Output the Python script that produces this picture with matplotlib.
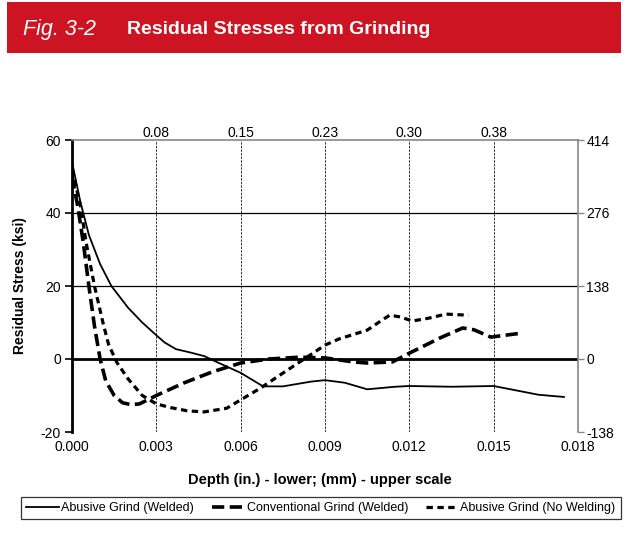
import matplotlib
matplotlib.use("Agg")
import matplotlib.pyplot as plt
from matplotlib.patches import Rectangle
from matplotlib.lines import Line2D

plt.rcParams['font.family'] = ['Liberation Sans', 'DejaVu Sans']

# ---- data ----
solid_x = [0, 0.0003, 0.0006, 0.001, 0.0014, 0.002, 0.0025, 0.003, 0.0033, 0.0037, 0.0042,
           0.0047, 0.0052, 0.006, 0.0068, 0.0075, 0.0085, 0.009, 0.0097, 0.0105, 0.0115,
           0.012, 0.0135, 0.015, 0.0158, 0.0166, 0.0175]
solid_y = [54, 43, 34, 26, 20, 14, 10, 6.5, 4.5, 2.7, 1.8, 0.8, -1.0, -3.8, -7.5, -7.5,
           -6.2, -5.8, -6.5, -8.3, -7.6, -7.4, -7.6, -7.4, -8.6, -9.8, -10.4]

long_x = [0, 0.0002, 0.0004, 0.0006, 0.0008, 0.001, 0.0012, 0.0015, 0.0018, 0.0021, 0.0024,
          0.003, 0.004, 0.005, 0.006, 0.007, 0.0081, 0.009, 0.01, 0.0105, 0.0114, 0.012,
          0.0131, 0.0139, 0.0143, 0.0149, 0.016]
long_y = [50, 42, 32, 20, 9, 0, -6, -10, -12, -12.5, -12.3, -10, -6.5, -3.5, -1.1, 0, 0.5,
          0.3, -0.8, -1.1, -0.8, 1.6, 5.8, 8.5, 8, 6, 7.1]

short_x = [0, 0.0003, 0.0005, 0.0008, 0.0011, 0.0013, 0.0016, 0.002, 0.0025, 0.003, 0.0035,
           0.0041, 0.0047, 0.0055, 0.006, 0.0067, 0.0073, 0.0082, 0.009, 0.0095, 0.0105,
           0.011, 0.0113, 0.0117, 0.0121, 0.0127, 0.0133, 0.0141]
short_y = [52, 42, 32, 20, 10, 4, -1, -5.5, -10, -12.3, -13.3, -14.2, -14.5, -13.5, -11.2,
           -8, -4.9, -0.3, 3.8, 5.5, 7.9, 10.5, 12, 11.5, 10.4, 11.2, 12.3, 12]

series_names = ["Abusive Grind (Welded)", "Conventional Grind (Welded)",
                "Abusive Grind (No Welding)"]

x_ticks = [0.000, 0.003, 0.006, 0.009, 0.012, 0.015, 0.018]
x_ticklabels = ["0.000", "0.003", "0.006", "0.009", "0.012", "0.015", "0.018"]
top_ticks = [0.003, 0.006, 0.009, 0.012, 0.015]
top_ticklabels = ["0.08", "0.15", "0.23", "0.30", "0.38"]
y_ticks = [-20, 0, 20, 40, 60]
right_ticklabels = ["-138", "0", "138", "276", "414"]

# ---- figure ----
fig = plt.figure(figsize=(6.29, 5.34), dpi=100)

fig.patches.append(Rectangle((7 / 629, 1 - 53 / 534), 614 / 629, 51 / 534,
                             transform=fig.transFigure, facecolor='#cc1422',
                             edgecolor='none', zorder=0))
fig.text(23 / 629, 1 - 29 / 534, "Fig. 3-2", color='white', fontsize=15.5,
         style='italic', va='center', ha='left')
fig.text(127 / 629, 1 - 29 / 534, "Residual Stresses from Grinding", color='white',
         fontsize=14, weight='bold', va='center', ha='left')

ax = fig.add_axes([72 / 629, 1 - 432 / 534, (578 - 72) / 629, (432 - 140) / 534])
ax.set_xlim(0, 0.018)
ax.set_ylim(-20, 60)

# grid
for xv in top_ticks:
    ax.axvline(xv, color='#333333', lw=0.7, ls=(0, (2.5, 1.2)), zorder=1)
for yv in [20, 40]:
    ax.axhline(yv, color='black', lw=0.9, zorder=1)
ax.axhline(0, color='black', lw=2.0, zorder=2)

ax.plot(solid_x, solid_y, color='black', lw=1.3, zorder=3)
ax.plot(long_x, long_y, color='black', lw=2.6, ls=(0, (3.4, 1.5)), zorder=3)
ax.plot(short_x, short_y, color='black', lw=2.3, ls=(0, (2.0, 1.4)), zorder=3)

ax.spines['bottom'].set_visible(False)
ax.spines['left'].set_color('black')
ax.spines['left'].set_linewidth(2.0)
for s in ['top', 'right']:
    ax.spines[s].set_color('#888888')
    ax.spines[s].set_linewidth(1.2)

ax.set_xticks(x_ticks)
ax.set_xticklabels(x_ticklabels, fontsize=10)
ax.tick_params(axis='x', length=0, pad=6)
ax.set_yticks(y_ticks)
ax.set_yticklabels([str(v) for v in y_ticks], fontsize=10)
ax.tick_params(axis='y', direction='out', length=5, width=1.2, pad=3)

# top axis
axt = ax.twiny()
axt.set_xlim(ax.get_xlim())
axt.set_xticks(top_ticks)
axt.set_xticklabels(top_ticklabels, fontsize=10)
axt.tick_params(axis='x', length=0, pad=0)
for s in axt.spines.values():
    s.set_visible(False)

# right axis
axr = ax.twinx()
axr.set_ylim(ax.get_ylim())
axr.set_yticks(y_ticks)
axr.set_yticklabels(right_ticklabels, fontsize=10)
axr.tick_params(axis='y', direction='out', length=4, width=1.0, color='#888888', pad=2)
for s in axr.spines.values():
    s.set_visible(False)

ax.set_ylabel("Residual Stress (ksi)", fontsize=10, weight='bold', labelpad=10)
fig.text(320 / 629, 1 - 480 / 534, "Depth (in.) - lower; (mm) - upper scale",
         fontsize=10.5, weight='bold', ha='center', va='center')

handles = [
    Line2D([], [], color='black', lw=1.3),
    Line2D([], [], color='black', lw=2.6, ls=(0, (3.4, 1.5))),
    Line2D([], [], color='black', lw=2.3, ls=(0, (2.0, 1.4))),
]
leg = fig.legend(handles, series_names, loc='center', ncol=3,
                 bbox_to_anchor=(321 / 629, 1 - 508 / 534), fontsize=9,
                 frameon=True, fancybox=False, edgecolor='black', handlelength=2.6,
                 handletextpad=0.2, columnspacing=1.4, borderpad=0.4)
leg.get_frame().set_linewidth(0.9)

fig.savefig("out.png", dpi=100)
